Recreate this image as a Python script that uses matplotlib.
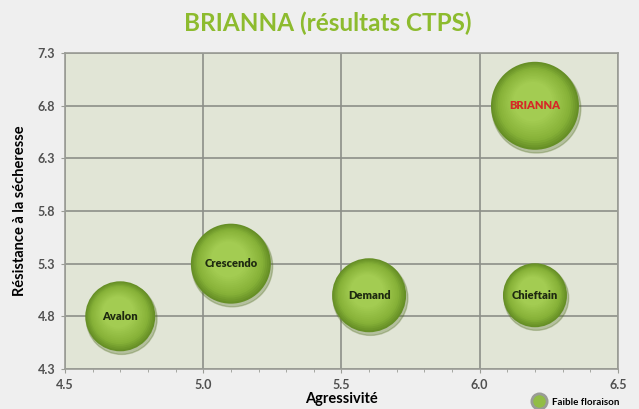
import matplotlib
matplotlib.use("Agg")
import matplotlib.pyplot as plt
import matplotlib.transforms as mtransforms
from matplotlib.lines import Line2D
from matplotlib.ticker import MultipleLocator
import numpy as np

# varietes : agressivite (x), resistance a la secheresse (y), taille de bulle
varietes = ["Avalon", "Crescendo", "Demand", "Chieftain", "BRIANNA"]
agressivite = [4.7, 5.1, 5.6, 6.2, 6.2]
resistance = [4.8, 5.3, 5.0, 5.0, 6.8]
taille = [35, 40, 37, 32, 44]

xticks = [4.5, 5.0, 5.5, 6.0, 6.5]
yticks = [4.3, 4.8, 5.3, 5.8, 6.3, 6.8, 7.3]

plt.rcParams['font.family'] = ['Lato', 'DejaVu Sans']

fig = plt.figure(figsize=(6.39, 4.09), dpi=100, facecolor='#efefef')
ax = fig.add_axes([0.1017, 0.098, 0.8653, 0.772])
ax.set_facecolor('#e1e5d6')

ax.set_xlim(4.5, 6.5)
ax.set_ylim(4.3, 7.3)
ax.set_xticks(xticks)
ax.set_yticks(yticks)
ax.set_xticklabels(["%.1f" % v for v in xticks])
ax.set_yticklabels(["%.1f" % v for v in yticks])
ax.xaxis.set_minor_locator(MultipleLocator(0.1))
ax.grid(True, color='#8c8f88', lw=1.2)
ax.set_axisbelow(True)
for s in ax.spines.values():
    s.set_color('#9a9c96')
    s.set_linewidth(1.2)
ax.tick_params(which='major', length=3, color='#9a9c96', labelsize=9,
               labelcolor='#505050', pad=4)
ax.tick_params(which='minor', length=2, color='#9a9c96')
for lab in ax.get_xticklabels() + ax.get_yticklabels():
    lab.set_fontweight('bold')

sizes = np.array([(t * 2 * 0.72) ** 2 for t in taille])

# ombre portee
shadow = ax.transData + mtransforms.ScaledTranslation(1 / 72, -2 / 72, fig.dpi_scale_trans)
ax.scatter(agressivite, resistance, s=sizes * 1.02, color='#4f6b1e', alpha=0.3,
           transform=shadow, zorder=3)

# degrade radial (bord sombre -> centre clair), reflet decale vers le haut
edge = np.array([0.40, 0.56, 0.15])
mid = np.array([0.53, 0.70, 0.22])
light = np.array([0.64, 0.80, 0.32])
n = 14
for i in range(n):
    f = i / (n - 1)
    k = 1.0 - 0.55 * f
    col = edge + (mid - edge) * min(1, f * 3) if f < 1 / 3 else mid + (light - mid) * (f - 1 / 3) * 1.5
    dy = 3.0 * f
    tr = ax.transData + mtransforms.ScaledTranslation(-0.5 * dy / 72, dy / 72, fig.dpi_scale_trans)
    ax.scatter(agressivite, resistance, s=sizes * k ** 2, color=np.clip(col, 0, 1),
               linewidths=0, transform=tr, zorder=4 + i * 0.01)

for name, x, y in zip(varietes, agressivite, resistance):
    col = '#d62828' if name == "BRIANNA" else '#1e2910'
    ax.text(x, y, name, ha='center', va='center', fontsize=8,
            fontweight='heavy', color=col, zorder=7)

ax.set_xlabel("Agressivité", fontsize=10.5, fontweight='bold', labelpad=1)
ax.set_ylabel("Résistance à la sécheresse", fontsize=10.5, fontweight='bold',
              labelpad=8)

fig.text(0.513, 0.944, "BRIANNA (résultats CTPS)", ha='center', va='center',
         fontsize=17.5, fontweight='bold', color='#8dbb2e')

handle = Line2D([], [], marker='o', ls='', markersize=11,
                markerfacecolor='#92bd45', markeredgecolor='#9a9c96',
                markeredgewidth=2)
fig.legend([handle], ["Faible floraison"], loc='center left',
           bbox_to_anchor=(0.815, 0.017), frameon=False,
           handletextpad=0.3, prop={'weight': 'bold', 'size': 7})

fig.savefig("out.png", dpi=100, facecolor=fig.get_facecolor())
